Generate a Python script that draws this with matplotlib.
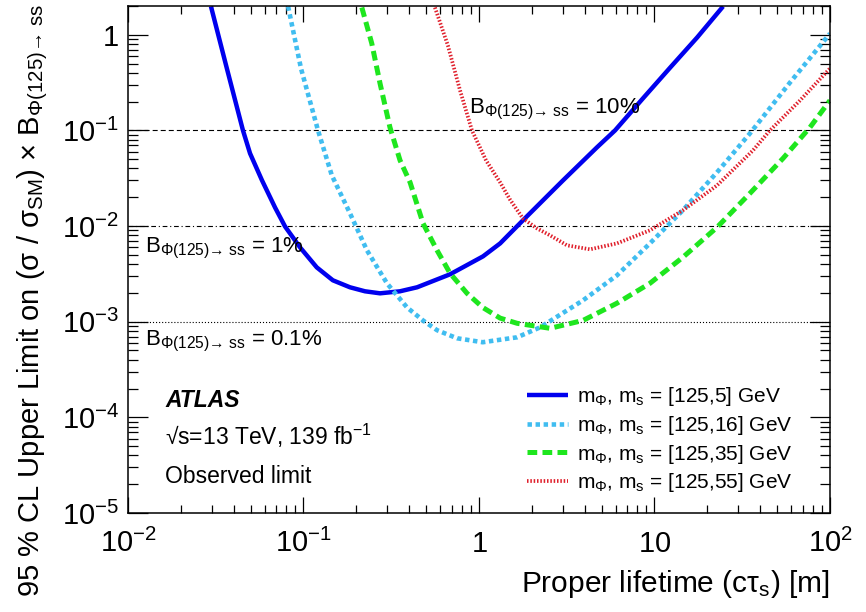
import matplotlib
matplotlib.use('Agg')
from matplotlib import pyplot as plt
from matplotlib.ticker import NullFormatter

plt.rcParams['font.family'] = ['Liberation Sans', 'DejaVu Sans']
plt.rcParams['mathtext.fontset'] = 'custom'
plt.rcParams['mathtext.rm'] = 'Liberation Sans'
plt.rcParams['mathtext.it'] = 'Liberation Sans:italic'
plt.rcParams['mathtext.bf'] = 'Liberation Sans:bold'
plt.rcParams['lines.scale_dashes'] = False

# observed limits vs proper lifetime [m], one pair of lists per scalar mass
ctau_ms5 = [0.0297, 0.0366, 0.0452, 0.0496, 0.058, 0.0689, 0.0785, 0.0955, 0.119, 0.147,
            0.184, 0.224, 0.273, 0.355, 0.444, 0.684, 1.054, 1.32, 1.78, 2.54,
            3.01, 4.70, 5.96, 8.59, 12.3, 17.5, 24.6]
limit_ms5 = [1.98, 0.444, 0.1, 0.0575, 0.0301, 0.0156, 0.0099, 0.0060, 0.0037, 0.00271,
             0.00229, 0.00208, 0.00198, 0.00208, 0.00229, 0.00313, 0.00482, 0.00659, 0.01148, 0.022,
             0.030, 0.0665, 0.1, 0.216, 0.455, 0.937, 1.98]

ctau_ms16 = [0.0817, 0.0968, 0.121, 0.145, 0.184, 0.230, 0.299, 0.389, 0.480, 0.577, 0.750,
             1.05, 1.65, 2.23, 3.91, 6.11, 9.42, 14.5, 22.7, 35.0, 59.2, 100]
limit_ms16 = [1.98, 0.444, 0.1, 0.0339, 0.0136, 0.00557, 0.00252, 0.00141, 0.00103, 0.000815, 0.000671,
              0.00061, 0.000687, 0.000873, 0.00167, 0.00305, 0.00659, 0.0146, 0.0364, 0.0931, 0.317, 1.03]

ctau_ms35 = [0.215, 0.245, 0.273, 0.311, 0.355, 0.405, 0.480, 0.577, 0.684, 0.855, 1.05,
             1.32, 1.65, 2.54, 3.91, 6.11, 9.42, 14.5, 22.7, 35.0, 54.0, 76.9, 100]
limit_ms35 = [1.93, 0.811, 0.310, 0.1075, 0.0486, 0.0286, 0.01067, 0.00557, 0.00321, 0.00198, 0.00141,
              0.00109, 0.000962, 0.000853, 0.00103, 0.00156, 0.00252, 0.00471, 0.00969, 0.022, 0.051, 0.1075, 0.206]

ctau_ms55 = [0.561, 0.665, 0.780, 0.912, 1.097, 1.32, 1.50, 1.78, 2.14, 2.54, 3.17, 4.29, 6.11, 9.42,
             14.5, 22.7, 36.4, 45.5, 67.5, 100]
limit_ms55 = [1.93, 0.773, 0.262, 0.1, 0.0486, 0.0286, 0.019, 0.0120, 0.00946, 0.0080, 0.00629, 0.00571,
              0.00659, 0.00902, 0.0146, 0.0266, 0.0618, 0.1, 0.206, 0.445]

mass_labels = [r'm$_{\mathrm{Φ}}$, m$_{\mathrm{s}}$ = [125,5] GeV',
               r'm$_{\mathrm{Φ}}$, m$_{\mathrm{s}}$ = [125,16] GeV',
               r'm$_{\mathrm{Φ}}$, m$_{\mathrm{s}}$ = [125,35] GeV',
               r'm$_{\mathrm{Φ}}$, m$_{\mathrm{s}}$ = [125,55] GeV']

# branching ratio reference lines
br_values = [0.1, 0.01, 0.001]
br_text = ['10%', '1%', '0.1%']

xtick_vals = [1e-2, 1e-1, 1, 10, 1e2]
xtick_labels = [r'$10^{-2}$', r'$10^{-1}$', r'$1$', r'$10$', r'$10^{2}$']
ytick_vals = [1e-5, 1e-4, 1e-3, 1e-2, 1e-1, 1]
ytick_labels = [r'$10^{-5}$', r'$10^{-4}$', r'$10^{-3}$', r'$10^{-2}$', r'$10^{-1}$', r'$1$']

fig = plt.figure(figsize=(8.66, 6.12), dpi=100)
ax = fig.add_axes([0.1478, 0.1618, 0.8106, 0.8284])
ax.set_xscale('log')
ax.set_yscale('log')
ax.set_xlim(1e-2, 1e2)
ax.set_ylim(1e-5, 2)

# horizontal BR lines
ax.axhline(br_values[0], color='black', lw=0.8, linestyle=(0, (3.6, 2.2)))
ax.axhline(br_values[1], color='black', lw=0.8, linestyle=(0, (3.4, 2.0, 0.8, 2.0)))
ax.axhline(br_values[2], color='black', lw=0.8, linestyle=(0, (0.8, 1.4)))

l5, = ax.plot(ctau_ms5, limit_ms5, color='#0000ee', lw=3.2, solid_capstyle='butt',
              solid_joinstyle='round')
l16, = ax.plot(ctau_ms16, limit_ms16, color='#40bdf0', lw=3.3, linestyle=(0, (3.2, 2.6)),
               dash_capstyle='butt')
l35, = ax.plot(ctau_ms35, limit_ms35, color='#1ee61e', lw=3.6, linestyle=(0, (7.0, 3.8)),
               dash_capstyle='butt')
l55, = ax.plot(ctau_ms55, limit_ms55, color='#e0202c', lw=2.7, linestyle=(0, (1.1, 1.3)),
               dash_capstyle='butt')

ax.set_xticks(xtick_vals, xtick_labels, va='baseline')
ax.set_yticks(ytick_vals, ytick_labels)
ax.xaxis.set_minor_formatter(NullFormatter())
ax.yaxis.set_minor_formatter(NullFormatter())
ax.tick_params(which='both', direction='in', top=True, right=True, width=0.9, labelsize=21)
ax.tick_params(axis='x', which='major', length=11.5, pad=27.9)
ax.tick_params(axis='x', which='minor', length=5.8)
ax.tick_params(axis='y', which='major', length=14.4, pad=6.5)
ax.tick_params(axis='y', which='minor', length=7.2)
for sp in ax.spines.values():
    sp.set_linewidth(1.1)

leg = ax.legend([l5, l16, l35, l55], mass_labels, loc='upper left',
                bbox_to_anchor=(527 / 866, 1 - 385 / 612),
                bbox_transform=fig.transFigure, frameon=False, fontsize=15,
                handlelength=1.97, handletextpad=0.43, labelspacing=0.28,
                borderpad=0, borderaxespad=0)

# BR labels
ax.text(0.4858, 0.789, r'B$_{\mathrm{Φ(125)→\ ss}}$ = ' + br_text[0], transform=ax.transAxes,
        fontsize=16, va='baseline')
ax.text(0.0242, 0.5148, r'B$_{\mathrm{Φ(125)→\ ss}}$ = ' + br_text[1], transform=ax.transAxes,
        fontsize=16, va='baseline')
ax.text(0.0242, 0.331, r'B$_{\mathrm{Φ(125)→\ ss}}$ = ' + br_text[2], transform=ax.transAxes,
        fontsize=16, va='baseline')

ax.text(0.0527, 0.209, 'ATLAS', transform=ax.transAxes, fontsize=16.5,
        fontweight='bold', fontstyle='italic', va='baseline')
ax.text(0.0527, 0.134, r'√s=13 TeV, 139 fb$^{\mathrm{-1}}$', transform=ax.transAxes,
        fontsize=16.5, va='baseline')
ax.text(0.0527, 0.059, 'Observed limit', transform=ax.transAxes, fontsize=16.5, va='baseline')

fig.text(33 / 866, 1 - 4 / 612,
         r'95 % CL Upper Limit on (σ / σ$_{\mathrm{SM}}$) × B$_{\mathrm{Φ(125)→\ ss}}$',
         rotation=90, ha='center', va='top', fontsize=21)
fig.text(830 / 866, 1 - 592 / 612, r'Proper lifetime (cτ$_{\mathrm{s}}$) [m]',
         ha='right', va='baseline', fontsize=21.5)

fig.savefig('out.png', dpi=100)
